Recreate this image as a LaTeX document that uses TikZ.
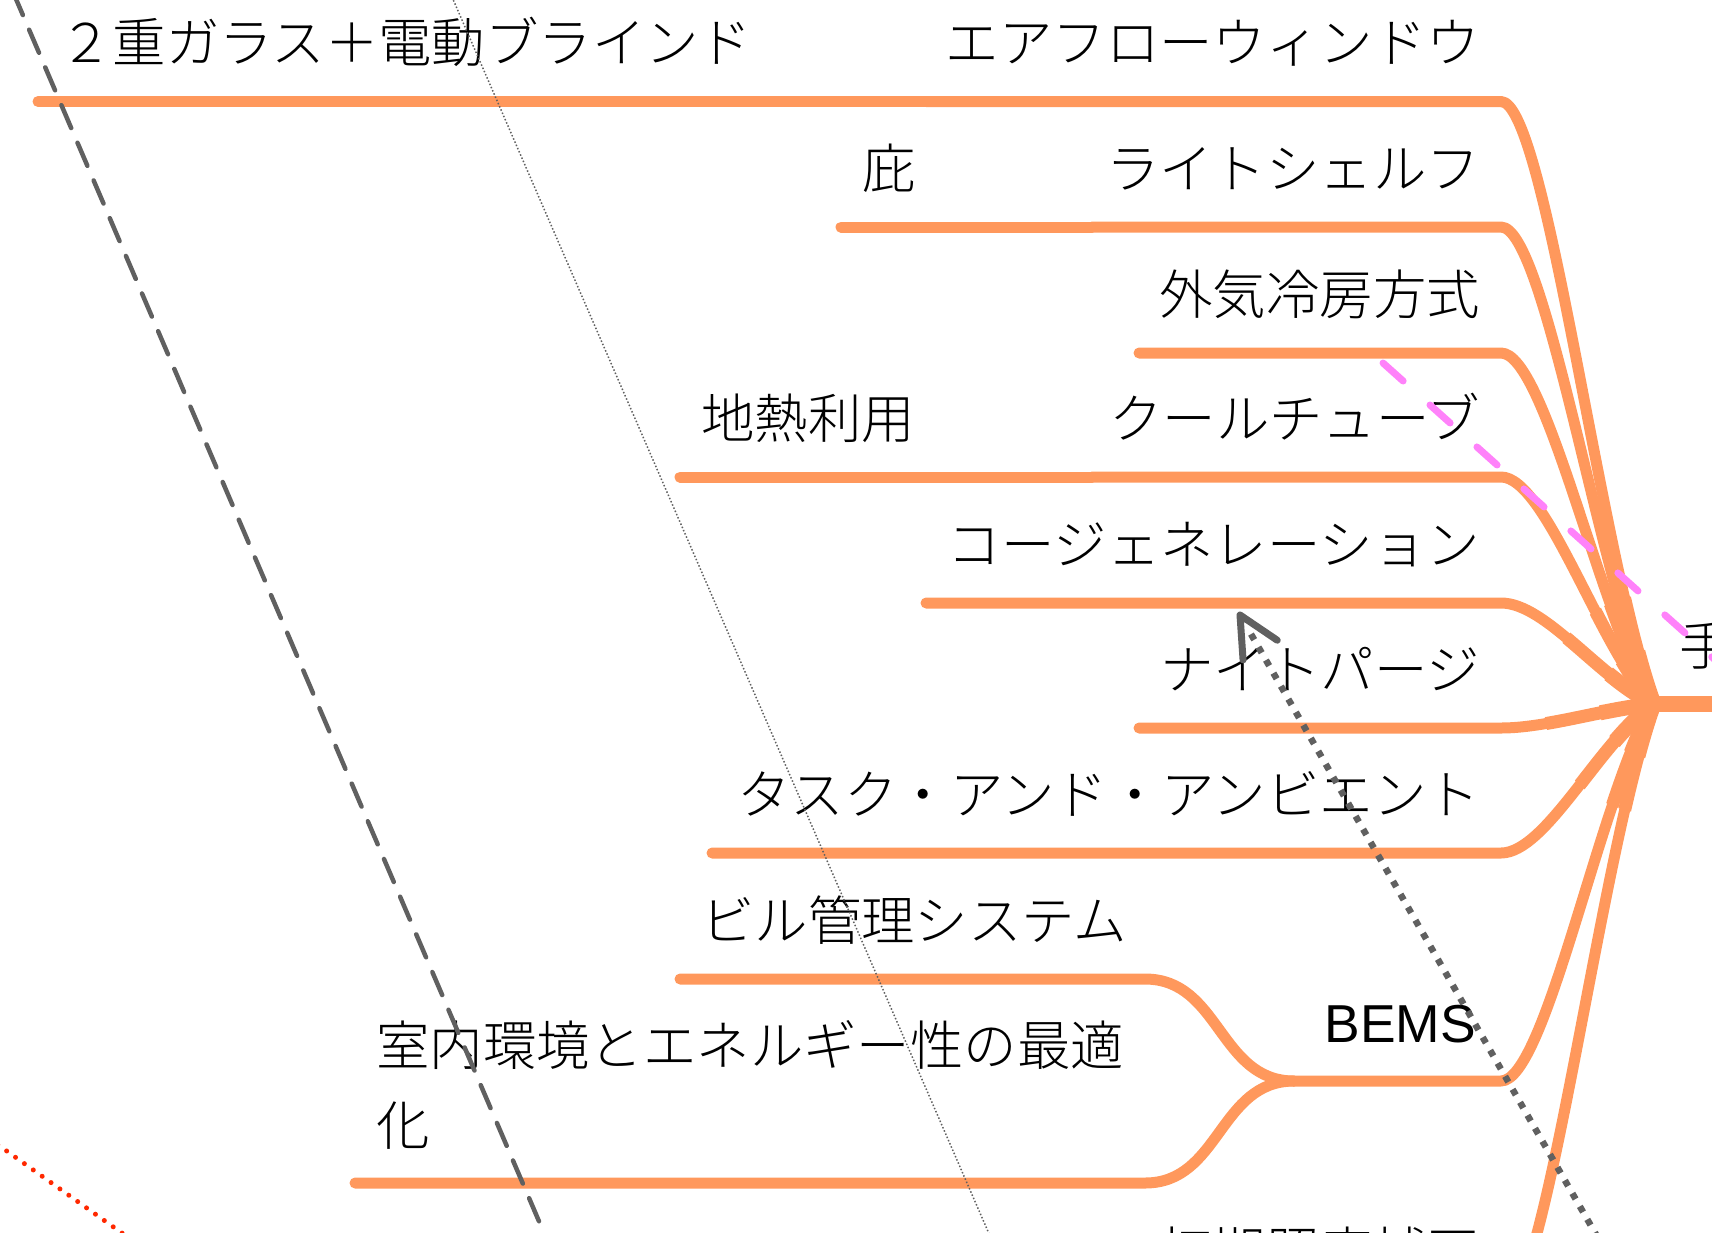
\documentclass[tikz,border=0pt]{standalone}
\usepackage{fontspec}
\newfontfamily\jpfont{Noto Sans CJK JP}[UprightFont={* Light}]
\newfontfamily\latfont{Liberation Sans}
\usetikzlibrary{calc}
\definecolor{branch}{RGB}{255,152,92}
\definecolor{pinkd}{RGB}{255,130,250}
\definecolor{greyd}{RGB}{96,96,96}
\definecolor{redd}{RGB}{255,40,0}
\begin{document}
\begin{tikzpicture}[x=1pt,y=-1pt,
  lbl/.style={font=\jpfont\fontsize{53.4}{80}\selectfont, inner sep=0pt, text=black},
  rlbl/.style={lbl, anchor=base east},
  llbl/.style={lbl, anchor=base west},
  uline/.style={draw=branch, line width=11pt, line cap=round, line join=round},
]
\useasboundingbox (0,0) rectangle (1712,1232);
\clip (0,0) rectangle (1712,1232);
% hub and trunk
\coordinate (hub) at (1654,704);
\coordinate (trunkR) at (1780,704);
% children of hub: right ends and left ends
\foreach \n/\y/\l in {1/101.5/926, 2/227/1092, 3/353/1139, 4/477/1092, 5/603/926, 6/728/1139, 7/853/712, 8/1081/1294, 9/1310/1000}{
  \coordinate (cR\n) at (1501,\y);
  \coordinate (cL\n) at (\l,\y);
}
% grandchildren
\coordinate (gL1) at (38,101.5);
\coordinate (gL2) at (841,227);
\coordinate (gL4) at (680,477);
\coordinate (bmL) at (680,979);
\coordinate (bmR) at (1145,979);
\coordinate (opL) at (355,1183);
\coordinate (opR) at (1145,1183);

% orange lines
\draw[uline, line width=16pt] (hub) -- (trunkR);
\foreach \n in {1,...,9}{
  \draw[uline] (cL\n) -- (cR\n) .. controls ($(cR\n)+(45,0)$) and ($(hub)!0.24!(cR\n)+(-17,0)$) .. (hub);
}
\begin{scope}
  \clip (hub) circle (110);
  \foreach \n in {1,...,9}{
    \draw[uline, line width=13pt] (cR\n) .. controls ($(cR\n)+(45,0)$) and ($(hub)!0.24!(cR\n)+(-17,0)$) .. (hub);
  }
\end{scope}
\begin{scope}
  \clip (hub) circle (55);
  \foreach \n in {1,...,9}{
    \draw[uline, line width=15pt] (cR\n) .. controls ($(cR\n)+(45,0)$) and ($(hub)!0.24!(cR\n)+(-17,0)$) .. (hub);
  }
\end{scope}
\draw[uline] (gL1) -- (cL1);
\draw[uline] (gL2) -- (cL2);
\draw[uline] (gL4) -- (cL4);
\draw[uline] (bmL) -- (bmR) .. controls ($(bmR)+(75,0)$) and ($(cL8)+(-75,0)$) .. (cL8);
\draw[uline] (opL) -- (opR) .. controls ($(opR)+(75,0)$) and ($(cL8)+(-75,0)$) .. (cL8);

% labels
\node[llbl] (root) at (1679,665) {手};
\node[rlbl] (t1) at (1480,62.5) {エアフローウィンドウ};
\node[rlbl] (t2) at (1480,188) {ライトシェルフ};
\node[rlbl] (t3) at (1480,314) {外気冷房方式};
\node[rlbl] (t4) at (1480,438) {クールチューブ};
\node[rlbl] (t5) at (1480,564) {コージェネレーション};
\node[rlbl] (t6) at (1480,689) {ナイトパージ};
\node[rlbl] (t7) at (1480,814) {タスク・アンド・アンビエント};
\node[rlbl, font=\latfont\fontsize{53.4}{80}\selectfont] (t8) at (1476,1042) {BEMS};
\node[rlbl] (t9) at (1480,1271) {初期照度補正};
\node[llbl] (g1) at (59,62.5) {２重ガラス＋電動ブラインド};
\node[llbl] (g2) at (862,188) {庇};
\node[llbl] (g4) at (701,438) {地熱利用};
\node[llbl] (bm) at (701,940) {ビル管理システム};
\node[llbl] (opa) at (376,1065) {室内環境とエネルギー性の最適};
\node[llbl] (opb) at (376,1145) {化};

% overlay lines
\coordinate (gdA) at (13,-8);
\coordinate (gdB) at (547,1240);
\draw[greyd, line width=4.5pt, dash pattern=on 25pt off 16pt, line cap=round] (gdA) -- (gdB);
\coordinate (tdA) at (452,-3);
\coordinate (tdB) at (990,1236);
\draw[greyd, line width=1.5pt, dash pattern=on 1.5pt off 2pt] (tdA) -- (tdB);
\coordinate (arS) at (1598,1238);
\coordinate (arT) at (1240,615);
\draw[greyd, line width=6.5pt, dash pattern=on 6.5pt off 8.5pt] (arS) -- ($(arT)!16pt!(arS)$);
\draw[greyd, line width=7pt, line cap=round, line join=round] ($(arT)!45pt!26:(arS)$) -- (arT) -- ($(arT)!45pt!-26:(arS)$);
\coordinate (pkA) at (1383,363);
\coordinate (pkB) at (1760,700);
\draw[pinkd, line width=7pt, line cap=round, dash pattern=on 27pt off 36pt] (pkA) -- (pkB);
\coordinate (rdA) at (-20,1132);
\coordinate (rdB) at (150,1253);
\draw[redd, line width=5pt, line cap=round, dash pattern=on 0pt off 10.9pt] (rdA) -- (rdB);
\end{tikzpicture}
\end{document}
